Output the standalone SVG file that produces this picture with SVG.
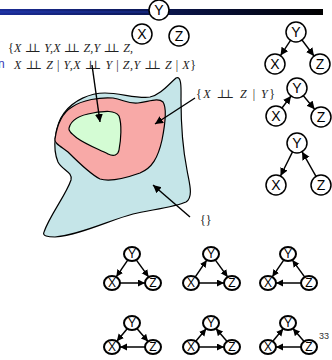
<svg xmlns="http://www.w3.org/2000/svg" width="332" height="360" viewBox="0 0 332 360">
  <defs>
    <linearGradient id="barH" x1="0" y1="0" x2="1" y2="0">
      <stop offset="0" stop-color="#1b2c96"/>
      <stop offset="0.45" stop-color="#0c1858"/>
      <stop offset="1" stop-color="#000000"/>
    </linearGradient>
    <marker id="headBig" markerUnits="userSpaceOnUse" markerWidth="10" markerHeight="10" refX="8" refY="4" orient="auto">
      <path d="M0,0 L8,4 L0,8 Z" fill="#000"/>
    </marker>
    <marker id="headSmall" markerUnits="userSpaceOnUse" markerWidth="9" markerHeight="9" refX="7" refY="3.5" orient="auto">
      <path d="M0,0 L7,3.5 L0,7 Z" fill="#000"/>
    </marker>
  </defs>
  <style>
    .node { fill: #fff; stroke: #000; stroke-width: 1.5; }
    .snode { fill: #fff; stroke: #000; stroke-width: 2; }
    .lbl { font-family: "Liberation Sans", Arial, sans-serif; font-size: 14px; text-anchor: middle; dominant-baseline: central; fill: #000; }
    .slbl { font-family: "Liberation Sans", Arial, sans-serif; font-size: 12px; text-anchor: middle; dominant-baseline: central; fill: #000; }
    .edge { stroke: #000; stroke-width: 1.4; fill: none; marker-end: url(#headBig); }
    .sedge { stroke: #000; stroke-width: 1.5; fill: none; marker-end: url(#headSmall); }
    .math { font-family: "Liberation Serif", "DejaVu Serif", serif; font-size: 12px; fill: #222; }
    .math .v { font-style: italic; }
    .blob { stroke: #000; stroke-width: 1.2; }
  </style>

  <!-- title rule -->
  <rect x="0" y="9" width="323" height="6" fill="url(#barH)"/>
  <rect x="0" y="11.5" width="150" height="1" fill="#2a48c8" opacity="0.6"/>

  <!-- clipped word at the left margin -->
  <text x="-2" y="68" font-family="Liberation Sans, sans-serif" font-size="12" fill="#3838b8">n</text>

  <!-- regions of distributions -->
  <g id="region-all">
    <path class="blob" fill="#c5e5e8" d="M44,232 C50,215 66,195 71,180 C73,172 62,170 58,162 C52,148 55,125 64,113 C74,100 90,93 105,93 C120,93 138,99 150,97 C160,95 168,85 176,78 C182,75 181,90 181,100 C181,125 183,150 187,170 C189,182 194,197 186,202 C175,207 150,210 133,214 C110,220 80,235 55,237 C48,237 42,236 44,232 Z"/>
  </g>
  <g id="region-xz-given-y">
    <path class="blob" fill="#f8a9a7" d="M55,139 C57,125 62,113 72,107 C82,100 100,97 113,98 C124,100 128,104 138,103 C148,102 158,97 163,102 C167,108 165,125 162,140 C158,158 152,168 140,173 C126,178 110,182 100,179 C90,174 76,160 68,152 C60,146 54,143 55,139 Z"/>
  </g>
  <g id="region-full-independence">
    <path class="blob" fill="#d4fcd4" d="M69,128 C71,120 80,115 93,113 C105,111 115,110 119,116 C122,124 121,140 119,150 C118,155 114,157 108,154 C98,149 85,144 77,138 C72,134 68,131 69,128 Z"/>
  </g>

  <!-- set labels; the independence sign is two ⊥ set side by side -->
  <g id="label-full">
    <text class="math" x="8" y="52" textLength="125" lengthAdjust="spacing">{<tspan class="v">X</tspan> ⊥<tspan dx="-6.5">⊥</tspan> <tspan class="v">Y,X</tspan> ⊥<tspan dx="-6.5">⊥</tspan> <tspan class="v">Z,Y</tspan> ⊥<tspan dx="-6.5">⊥</tspan> <tspan class="v">Z,</tspan></text>
    <text class="math" x="14" y="69" textLength="182" lengthAdjust="spacing"><tspan class="v">X</tspan> ⊥<tspan dx="-6.5">⊥</tspan> <tspan class="v">Z</tspan> | <tspan class="v">Y,X</tspan> ⊥<tspan dx="-6.5">⊥</tspan> <tspan class="v">Y</tspan> | <tspan class="v">Z,Y</tspan> ⊥<tspan dx="-6.5">⊥</tspan> <tspan class="v">Z</tspan> | <tspan class="v">X</tspan>}</text>
  </g>
  <g id="label-xz-given-y">
    <text class="math" x="196" y="98" textLength="79" lengthAdjust="spacing">{<tspan class="v">X</tspan> ⊥<tspan dx="-6.5">⊥</tspan> <tspan class="v">Z</tspan> | <tspan class="v">Y</tspan>}</text>
  </g>
  <g id="label-empty">
    <text class="math" x="200" y="224" font-size="19">{}</text>
  </g>

  <!-- pointers from labels to regions -->
  <g id="pointers">
    <line class="edge" x1="92" y1="65" x2="100" y2="122"/>
    <line class="edge" x1="195" y1="98" x2="155" y2="124"/>
    <line class="edge" x1="190" y1="217" x2="153" y2="185"/>
  </g>

  <!-- unconnected X, Y, Z -->
  <g id="top-y"><circle class="node" cx="159" cy="10" r="10"/><text class="lbl" x="159" y="10">Y</text></g>
  <g id="top-x"><circle class="node" cx="142" cy="34" r="10"/><text class="lbl" x="142" y="34">X</text></g>
  <g id="top-z"><circle class="node" cx="179" cy="36" r="10"/><text class="lbl" x="179" y="36">Z</text></g>

  <!-- three equivalent chain / fork graphs -->
  <g id="g1-edges">
    <line class="edge" x1="290.5" y1="40.4" x2="280.5" y2="55.6"/>
    <line class="edge" x1="302" y1="40" x2="314" y2="56"/>
  </g>
  <g id="g1-y"><circle class="node" cx="296" cy="32" r="10"/><text class="lbl" x="296" y="32">Y</text></g>
  <g id="g1-x"><circle class="node" cx="275" cy="64" r="10"/><text class="lbl" x="275" y="64">X</text></g>
  <g id="g1-z"><circle class="node" cx="320" cy="64" r="10"/><text class="lbl" x="320" y="64">Z</text></g>

  <g id="g2-edges">
    <line class="edge" x1="282" y1="108" x2="291" y2="96"/>
    <line class="edge" x1="303.4" y1="95.7" x2="314.6" y2="109.3"/>
  </g>
  <g id="g2-y"><circle class="node" cx="297" cy="88" r="10"/><text class="lbl" x="297" y="88">Y</text></g>
  <g id="g2-x"><circle class="node" cx="276" cy="116" r="10"/><text class="lbl" x="276" y="116">X</text></g>
  <g id="g2-z"><circle class="node" cx="321" cy="117" r="10"/><text class="lbl" x="321" y="117">Z</text></g>

  <g id="g3-edges">
    <line class="edge" x1="292.5" y1="151.9" x2="280.5" y2="176"/>
    <line class="edge" x1="316" y1="176.3" x2="302" y2="151.7"/>
  </g>
  <g id="g3-y"><circle class="node" cx="297" cy="143" r="10"/><text class="lbl" x="297" y="143">Y</text></g>
  <g id="g3-x"><circle class="node" cx="276" cy="185" r="10"/><text class="lbl" x="276" y="185">X</text></g>
  <g id="g3-z"><circle class="node" cx="321" cy="185" r="10"/><text class="lbl" x="321" y="185">Z</text></g>

  <!-- six complete DAGs, first row -->
  <g id="dagA" transform="translate(132,254)">
    <g class="connectors">
      <line class="sedge" x1="-4.3" y1="6.2" x2="-15.7" y2="22.8"/>
      <line class="sedge" x1="4.4" y1="6.1" x2="16.6" y2="22.9"/>
      <line class="sedge" x1="-12" y1="29" x2="13" y2="29"/>
    </g>
    <ellipse class="snode" cx="0" cy="0" rx="8" ry="7"/><text class="slbl" x="0" y="0">Y</text>
    <ellipse class="snode" cx="-20" cy="29" rx="8" ry="7"/><text class="slbl" x="-20" y="29">X</text>
    <ellipse class="snode" cx="21" cy="29" rx="8" ry="7"/><text class="slbl" x="21" y="29">Z</text>
  </g>
  <g id="dagB" transform="translate(211,254)">
    <g class="connectors">
      <line class="sedge" x1="-15.7" y1="22.8" x2="-4.3" y2="6.2"/>
      <line class="sedge" x1="4.4" y1="6.1" x2="16.6" y2="22.9"/>
      <line class="sedge" x1="-12" y1="29" x2="13" y2="29"/>
    </g>
    <ellipse class="snode" cx="0" cy="0" rx="8" ry="7"/><text class="slbl" x="0" y="0">Y</text>
    <ellipse class="snode" cx="-20" cy="29" rx="8" ry="7"/><text class="slbl" x="-20" y="29">X</text>
    <ellipse class="snode" cx="21" cy="29" rx="8" ry="7"/><text class="slbl" x="21" y="29">Z</text>
  </g>
  <g id="dagC" transform="translate(288,254)">
    <g class="connectors">
      <line class="sedge" x1="-4.3" y1="6.2" x2="-15.7" y2="22.8"/>
      <line class="sedge" x1="16.6" y1="22.9" x2="4.4" y2="6.1"/>
      <line class="sedge" x1="13" y1="29" x2="-12" y2="29"/>
    </g>
    <ellipse class="snode" cx="0" cy="0" rx="8" ry="7"/><text class="slbl" x="0" y="0">Y</text>
    <ellipse class="snode" cx="-20" cy="29" rx="8" ry="7"/><text class="slbl" x="-20" y="29">X</text>
    <ellipse class="snode" cx="21" cy="29" rx="8" ry="7"/><text class="slbl" x="21" y="29">Z</text>
  </g>

  <!-- six complete DAGs, second row -->
  <g id="dagD" transform="translate(132,323)">
    <g class="connectors">
      <line class="sedge" x1="-4.8" y1="5.8" x2="-15.2" y2="18.2"/>
      <line class="sedge" x1="4.9" y1="5.6" x2="16.1" y2="18.4"/>
      <line class="sedge" x1="13" y1="24" x2="-12" y2="24"/>
    </g>
    <ellipse class="snode" cx="0" cy="0" rx="8" ry="7"/><text class="slbl" x="0" y="0">Y</text>
    <ellipse class="snode" cx="-20" cy="24" rx="8" ry="7"/><text class="slbl" x="-20" y="24">X</text>
    <ellipse class="snode" cx="21" cy="24" rx="8" ry="7"/><text class="slbl" x="21" y="24">Z</text>
  </g>
  <g id="dagE" transform="translate(211,323)">
    <g class="connectors">
      <line class="sedge" x1="-15.2" y1="18.2" x2="-4.8" y2="5.8"/>
      <line class="sedge" x1="16.1" y1="18.4" x2="4.9" y2="5.6"/>
      <line class="sedge" x1="-12" y1="24" x2="13" y2="24"/>
    </g>
    <ellipse class="snode" cx="0" cy="0" rx="8" ry="7"/><text class="slbl" x="0" y="0">Y</text>
    <ellipse class="snode" cx="-20" cy="24" rx="8" ry="7"/><text class="slbl" x="-20" y="24">X</text>
    <ellipse class="snode" cx="21" cy="24" rx="8" ry="7"/><text class="slbl" x="21" y="24">Z</text>
  </g>
  <g id="dagF" transform="translate(288,323)">
    <g class="connectors">
      <line class="sedge" x1="-15.2" y1="18.2" x2="-4.8" y2="5.8"/>
      <line class="sedge" x1="16.1" y1="18.4" x2="4.9" y2="5.6"/>
      <line class="sedge" x1="13" y1="24" x2="-12" y2="24"/>
    </g>
    <ellipse class="snode" cx="0" cy="0" rx="8" ry="7"/><text class="slbl" x="0" y="0">Y</text>
    <ellipse class="snode" cx="-20" cy="24" rx="8" ry="7"/><text class="slbl" x="-20" y="24">X</text>
    <ellipse class="snode" cx="21" cy="24" rx="8" ry="7"/><text class="slbl" x="21" y="24">Z</text>
  </g>

  <!-- page number -->
  <text x="319" y="339" font-family="Liberation Sans, sans-serif" font-size="9" fill="#333">33</text>
</svg>
